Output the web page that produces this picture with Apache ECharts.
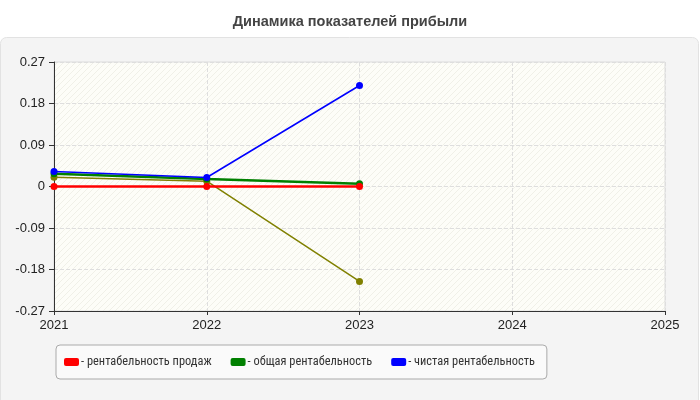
<!DOCTYPE html>
<html>
<head>
<meta charset="utf-8">
<script src="https://cdn.jsdelivr.net/npm/echarts@6/dist/echarts.min.js"></script>
<style>
html, body { margin: 0; padding: 0; background: #fff; }
#chart { width: 700px; height: 400px; }
</style>
</head>
<body>
<div id="chart"></div>
<script>
var years = [2021, 2022, 2023];
var salesProfit = [0, 0, 0];
var totalProfit = [0.0275, 0.016, 0.006];
var netProfit = [0.0325, 0.0195, 0.219];
var otherProfit = [0.02, 0.0115, -0.206];
var legendNames = ['рентабельность продаж', 'общая рентабельность', 'чистая рентабельность'];

function pairs(xs, ys) {
	var out = [];
	for (var i = 0; i < xs.length; i++) {
		out.push([xs[i], ys[i]]);
	}
	return out;
}

// штриховка фона области графика
function hatch() {
	var c = document.createElement('canvas');
	c.width = 6; c.height = 6;
	var ctx = c.getContext('2d');
	ctx.fillStyle = '#fdfdf8';
	ctx.fillRect(0, 0, 6, 6);
	ctx.strokeStyle = '#f0f0e8';
	ctx.lineWidth = 1;
	ctx.beginPath();
	ctx.moveTo(0, 6); ctx.lineTo(6, 0);
	ctx.moveTo(-3, 3); ctx.lineTo(3, -3);
	ctx.moveTo(3, 9); ctx.lineTo(9, 3);
	ctx.stroke();
	return { image: c, repeat: 'repeat' };
}

var myChart = echarts.init(document.getElementById('chart'));
var option = {
	animation: false,
	textStyle: { fontFamily: 'Liberation Sans, Arial, sans-serif' },
	graphic: [
		{
			type: 'rect',
			z: -10,
			shape: { x: 0.5, y: 37.5, width: 698, height: 400, r: 6 },
			style: { fill: '#f4f4f4', stroke: '#e2e2e2', lineWidth: 1 }
		}
	],
	title: {
		text: 'Динамика показателей прибыли',
		left: 'center',
		top: 9,
		textStyle: { fontSize: 14.5, fontWeight: 'bold', color: '#444', fontFamily: 'Liberation Sans, Arial, sans-serif' }
	},
	grid: {
		left: 54,
		right: 35,
		top: 62,
		bottom: 89,
		show: true,
		backgroundColor: hatch(),
		borderColor: '#dcdcdc',
		borderWidth: 1
	},
	legend: {
		data: legendNames,
		left: 56,
		top: 345,
		width: 600,
		height: 20,
		padding: [11, 12, 11, 8],
		itemGap: 19,
		itemWidth: 15,
		itemHeight: 8,
		icon: 'roundRect',
		backgroundColor: '#fafafa',
		borderColor: '#aaa',
		borderWidth: 1,
		borderRadius: 4,
		formatter: function (name) { return '- ' + name; },
		textStyle: { fontSize: 12.4, color: '#333', fontFamily: 'Liberation Sans Narrow, Roboto Condensed, DejaVu Sans Condensed, sans-serif', padding: [0, 0, 0, -3] }
	},
	xAxis: {
		type: 'value',
		min: 2021,
		max: 2025,
		interval: 1,
		axisLine: { show: true, onZero: false, lineStyle: { color: '#333' } },
		axisTick: { show: true, length: 4, lineStyle: { color: '#333' } },
		axisLabel: { color: '#222', fontSize: 13, margin: 8, formatter: function (v) { return String(v); } },
		splitLine: { show: true, lineStyle: { color: '#dedede', type: 'dashed' } }
	},
	yAxis: {
		type: 'value',
		min: -0.27,
		max: 0.27,
		interval: 0.09,
		axisLine: { show: true, onZero: false, lineStyle: { color: '#333' } },
		axisTick: { show: true, length: 5, lineStyle: { color: '#333' } },
		axisLabel: {
			color: '#222',
			fontSize: 13,
			margin: 9,
			formatter: function (v) { return String(+v.toFixed(2)); }
		},
		splitLine: { show: true, lineStyle: { color: '#dedede', type: 'dashed' } }
	},
	series: [
		{
			name: 'прочее',
			type: 'line',
			data: pairs(years, otherProfit),
			color: '#808000',
			symbol: 'circle',
			symbolSize: 7,
			lineStyle: { width: 1.5, color: '#808000' },
			z: 2
		},
		{
			name: legendNames[1],
			type: 'line',
			data: pairs(years, totalProfit),
			color: '#008000',
			symbol: 'circle',
			symbolSize: 7,
			lineStyle: { width: 2.5, color: '#008000' },
			z: 3
		},
		{
			name: legendNames[0],
			type: 'line',
			data: pairs(years, salesProfit),
			color: '#ff0000',
			symbol: 'circle',
			symbolSize: 7,
			lineStyle: { width: 2.5, color: '#ff0000' },
			z: 4
		},
		{
			name: legendNames[2],
			type: 'line',
			data: pairs(years, netProfit),
			color: '#0000ff',
			symbol: 'circle',
			symbolSize: 7,
			lineStyle: { width: 1.5, color: '#0000ff' },
			z: 5
		}
	]
};
myChart.setOption(option);
</script>
</body>
</html>
